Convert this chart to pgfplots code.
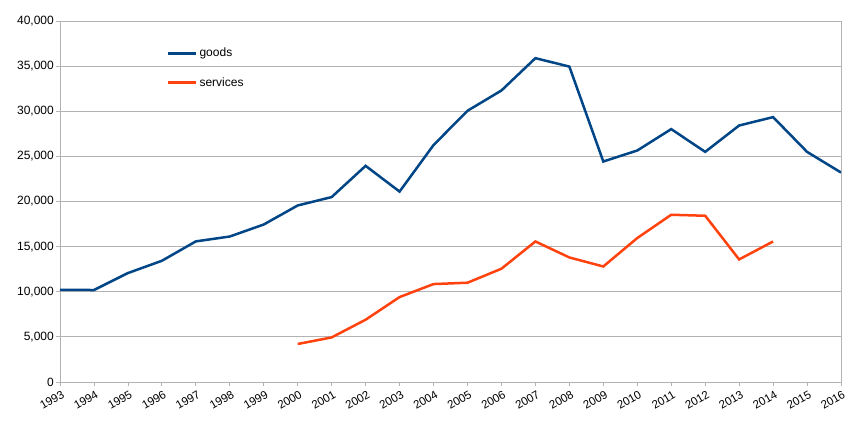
\documentclass[border=0pt]{standalone}
\usepackage{pgfplots}
\pgfplotsset{compat=1.18}
\usepackage{fontspec}
\setmainfont{Liberation Sans}
\definecolor{goodsc}{HTML}{004586}
\definecolor{servc}{HTML}{FF420E}
\definecolor{gridc}{HTML}{B3B3B3}
\begin{document}
\begin{tikzpicture}
\useasboundingbox (-60pt,-53pt) rectangle (804pt,382pt);
\begin{axis}[
  at={(0pt,0pt)}, anchor=south west,
  scale only axis, width=781pt, height=361pt,
  font=\fontsize{12}{14}\selectfont,
  xmin=1993, xmax=2016, ymin=0, ymax=40000,
  xtick={1993,1994,...,2016},
  ytick={0,5000,...,40000},
  scaled y ticks=false,
  /pgf/number format/.cd, 1000 sep={,}, assume math mode=true, /pgfplots/.cd,
  xticklabel={\pgfmathprintnumber[1000 sep={}]{\tick}},
  xticklabel style={rotate=30, anchor=north east, inner sep=1pt, yshift=-3pt, font=\fontsize{11.5}{13}\selectfont},
  yticklabel style={inner sep=2pt},
  ymajorgrids, grid style={gridc, line width=0.8pt},
  axis line style={gridc, line width=0.8pt},
  tick style={gridc, line width=0.8pt},
  tick align=outside, major tick length=4pt,
  xtick pos=bottom, ytick pos=left,
  legend style={at={(axis description cs:0.133,0.936)}, anchor=north west, draw=none, fill=none, row sep=15pt, font=\fontsize{12}{14}\selectfont},
  legend cell align=left,
  legend image code/.code={\draw[#1] (0pt,0pt) -- (28pt,0pt);},
]
\addplot[goodsc, line width=2.5pt] coordinates {
(1993,10220) (1994,10190) (1995,12070) (1996,13430) (1997,15580) (1998,16120)
(1999,17450) (2000,19560) (2001,20490) (2002,23950) (2003,21100) (2004,26250)
(2005,30050) (2006,32300) (2007,35880) (2008,34950) (2009,24430) (2010,25650)
(2011,28020) (2012,25500) (2013,28420) (2014,29350) (2015,25500) (2016,23210)
};
\addlegendentry{goods}
\addplot[servc, line width=2.5pt] coordinates {
(2000,4210) (2001,4940) (2002,6900) (2003,9410) (2004,10850) (2005,11000)
(2006,12550) (2007,15570) (2008,13800) (2009,12800) (2010,15950) (2011,18530)
(2012,18420) (2013,13580) (2014,15570)
};
\addlegendentry{services}
\end{axis}
\end{tikzpicture}
\end{document}
